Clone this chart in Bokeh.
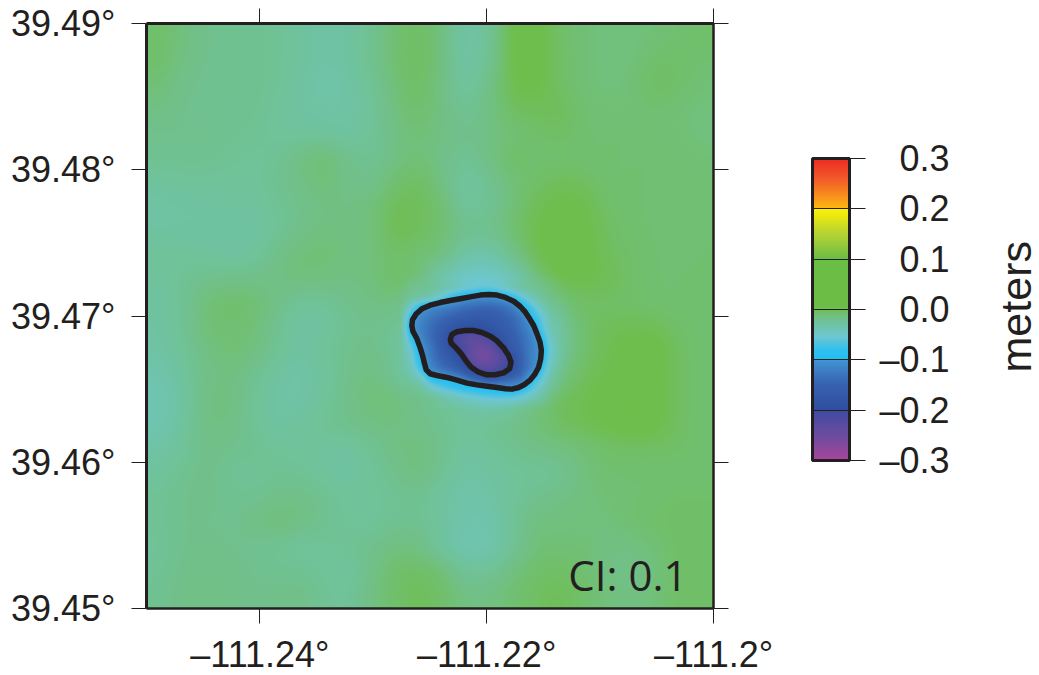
import numpy as np
from bokeh.plotting import figure
from bokeh.models import (LinearAxis, FixedTicker, LinearColorMapper, ColorBar, Label, Range1d)
from bokeh.embed import file_html
from bokeh.resources import INLINE

INK = "#231f20"
LON_TICKS = [-111.24, -111.22, -111.2]
LON_LABELS = ["\u2013111.24\u00b0", "\u2013111.22\u00b0", "\u2013111.2\u00b0"]
LAT_TICKS = [39.45, 39.46, 39.47, 39.48, 39.49]
LAT_LABELS = ["39.45\u00b0", "39.46\u00b0", "39.47\u00b0", "39.48\u00b0", "39.49\u00b0"]
CB_TICKS = [-0.3, -0.2, -0.1, 0.0, 0.1, 0.2, 0.3]
CB_LABELS = ["\u20130.3", "\u20130.2", "\u20130.1", "\u00a0\u00a00.0", "\u00a0\u00a00.1", "\u00a0\u00a00.2", "\u00a0\u00a00.3"]

CMAP_SEGMENTS = [
    (-0.30, -0.25, "#a8459b", "#6b4c9f"),
    (-0.25, -0.20, "#6b4c9f", "#3f4ba0"),
    (-0.20, -0.15, "#2f4ea0", "#3761ae"),
    (-0.15, -0.10, "#3761ae", "#4195d3"),
    (-0.10, -0.08, "#22bff2", "#30c0ee"),
    (-0.08, -0.055, "#30c0ee", "#6dc7d3"),
    (-0.055, -0.03, "#6dc7d3", "#6fc3a5"),
    (-0.03, -0.015, "#6fc3a5", "#71c087"),
    (-0.015, -0.005, "#71c087", "#70bf66"),
    (-0.005, 0.00, "#70bf66", "#6ebe50"),
    (0.00, 0.01, "#6ebe50", "#6cbd45"),
    (0.01, 0.10, "#6cbd45", "#6abd45"),
    (0.10, 0.15, "#6abd45", "#b5d334"),
    (0.15, 0.20, "#b5d334", "#fff200"),
    (0.20, 0.26, "#fdb913", "#f15a29"),
    (0.26, 0.30, "#f15a29", "#ee2a24"),
]

# displacement in millimetres (rows run north to south)
FIELD_MM = [
    [-6,-12,-18,-20,-20,-22,-26,-30,-28,-20,-8,-4,-12,-32,-22,3,3,-6,-10,-12,-12,-10,-8,-6],
    [-6,-14,-18,-20,-20,-22,-26,-30,-28,-20,-8,-3,-12,-32,-20,3,3,-5,-10,-12,-12,-6,-6,-8],
    [-10,-16,-20,-20,-20,-22,-28,-32,-30,-22,-10,-4,-14,-28,-16,1,2,-5,-10,-12,-10,-4,-6,-10],
    [-14,-18,-20,-20,-20,-24,-28,-30,-30,-24,-12,-6,-14,-22,-14,-3,-2,-2,-8,-10,-10,-8,-10,-12],
    [-18,-18,-18,-20,-22,-24,-26,-26,-28,-24,-14,-10,-14,-18,-14,-10,-6,-4,-8,-8,-8,-8,-10,-12],
    [-20,-20,-20,-22,-24,-22,-14,-8,-18,-22,-14,-10,-16,-22,-14,-5,-8,-8,-8,-8,-8,-8,-8,-10],
    [-26,-24,-24,-24,-24,-20,-14,-10,-16,-18,-8,-3,-14,-28,-20,-10,-6,-2,-4,-8,-8,-8,-8,-8],
    [-30,-28,-28,-26,-26,-22,-18,-14,-14,-12,-2,-2,-8,-26,-22,-10,-1,2,1,-6,-8,-8,-8,-8],
    [-28,-28,-28,-28,-28,-24,-16,-12,-14,-12,0,-3,-8,-18,-18,-8,1,4,2,-4,-8,-8,-9,-8],
    [-24,-24,-26,-28,-26,-16,-10,-10,-12,-12,-6,-8,-12,-30,-34,-16,0,4,3,-3,-6,-8,-9,-8],
    [-26,-22,-18,-16,-16,-14,-12,-12,-14,-12,-4,-10,-36,-50,-52,-40,-10,1,1,-1,-6,-8,-8,-7],
    [-28,-22,-10,-6,-8,-16,-24,-24,-18,-14,-14,-25,-60,-80,-80,-70,-50,-12,-5,-5,-6,-8,-8,-7],
    [-28,-22,-10,-8,-10,-20,-30,-26,-20,-18,-22,-35,-90,-120,-120,-110,-80,-24,-6,-2,-1,-1,-6,-8],
    [-30,-24,-14,-10,-12,-22,-28,-24,-18,-16,-22,-40,-100,-150,-170,-150,-90,-24,-6,-1,3,4,-4,-8],
    [-34,-26,-16,-12,-20,-28,-32,-26,-18,-12,-22,-36,-70,-130,-150,-130,-60,-14,-3,1,3,2,-4,-8],
    [-38,-28,-14,-12,-22,-30,-30,-24,-16,-10,-10,-18,-22,-30,-40,-30,-14,-2,0,3,5,3,-4,-8],
    [-36,-26,-14,-14,-22,-28,-26,-22,-18,-14,-14,-16,-20,-24,-20,-16,-10,-4,-1,1,4,2,-4,-8],
    [-30,-24,-16,-18,-20,-24,-24,-26,-28,-22,-14,-12,-18,-28,-24,-20,-16,-14,-10,-6,-5,-5,-6,-8],
    [-26,-20,-16,-22,-24,-20,-22,-26,-28,-24,-18,-12,-22,-30,-28,-24,-24,-22,-12,-8,-8,-8,-8,-8],
    [-22,-18,-16,-20,-20,-16,-14,-20,-24,-24,-22,-20,-28,-32,-30,-24,-18,-14,-12,-10,-8,-8,-6,-6],
    [-22,-18,-18,-20,-14,-10,-14,-20,-24,-24,-20,-20,-26,-34,-34,-22,-12,-12,-12,-12,-8,-6,-5,-5],
    [-24,-18,-16,-18,-20,-22,-26,-24,-22,-18,-12,-14,-28,-36,-36,-22,-10,-10,-10,-14,-14,-10,-5,-5],
    [-22,-16,-16,-16,-18,-20,-20,-24,-26,-16,-6,-4,-8,-24,-22,-12,-6,-4,-8,-14,-16,-12,-5,-5],
    [-20,-16,-14,-16,-18,-16,-16,-22,-24,-14,-6,-2,-6,-14,-14,-8,-4,-2,-6,-12,-14,-10,-5,-5],
]
N = float("nan")
# finer patch over the subsidence bowl (north to south); NaN means "use the coarse field"
BOWL_MM = [
    [N,N,N,N,N,N,N,N,N,N,N,N,N,N,N,N,N],
    [N,-18,-20,-24,-30,-36,-46,-54,-58,-58,-50,-38,-28,-22,-16,-12,N],
    [N,-24,-30,-38,-55,-78,-95,-103,-110,-108,-100,-88,-62,-42,-26,-14,N],
    [N,-55,-95,-112,-118,-125,-135,-140,-145,-145,-140,-125,-100,-70,-42,-24,N],
    [N,-85,-115,-130,-140,-150,-160,-165,-168,-165,-155,-145,-125,-92,-60,-32,N],
    [N,-98,-120,-140,-155,-175,-190,-195,-192,-180,-165,-150,-130,-108,-68,-36,N],
    [N,-78,-115,-140,-165,-200,-225,-235,-230,-205,-180,-160,-140,-118,-85,-42,N],
    [N,-58,-103,-130,-160,-190,-210,-240,-252,-240,-202,-170,-145,-120,-98,-50,N],
    [N,-48,-96,-125,-150,-170,-198,-240,-260,-252,-225,-198,-150,-120,-96,-48,N],
    [N,-42,-80,-115,-135,-150,-175,-212,-235,-235,-215,-195,-150,-120,-82,-40,N],
    [N,-32,-48,-88,-98,-105,-120,-145,-165,-180,-165,-150,-135,-90,-64,-30,N],
    [N,-20,-28,-48,-62,-74,-84,-90,-96,-100,-100,-104,-94,-70,-44,-22,N],
    [N,-16,-18,-20,-30,-36,-44,-50,-56,-60,-62,-62,-54,-40,-28,-12,N],
    [N,N,N,N,N,N,N,N,N,N,N,N,N,N,N,N,N],
]
BOWL_LON0, BOWL_LON1 = -111.22798, -111.21298
BOWL_LAT0, BOWL_LAT1 = 39.46340, 39.47297

CONTOUR_M01_LON = [-111.22660,-111.22654,-111.22621,-111.22571,-111.22498,-111.22410,-111.22321,-111.22233,-111.22145,-111.22057,-111.21983,-111.21910,-111.21836,-111.21762,-111.21704,-111.21659,-111.21621,-111.21586,-111.21556,-111.21530,-111.21518,-111.21524,-111.21542,-111.21577,-111.21615,-111.21665,-111.21718,-111.21777,-111.21836,-111.21910,-111.21998,-111.22086,-111.22174,-111.22262,-111.22351,-111.22439,-111.22498,-111.22533,-111.22548,-111.22563,-111.22586,-111.22615,-111.22651,-111.22660]
CONTOUR_M01_LAT = [39.46935,39.46974,39.47015,39.47049,39.47074,39.47092,39.47106,39.47118,39.47131,39.47143,39.47147,39.47143,39.47127,39.47101,39.47065,39.47026,39.46981,39.46935,39.46878,39.46821,39.46764,39.46707,39.46650,39.46600,39.46564,39.46532,39.46511,39.46500,39.46502,39.46511,39.46520,39.46529,39.46541,39.46561,39.46580,39.46593,39.46605,39.46632,39.46673,39.46723,39.46782,39.46844,39.46896,39.46935]
CONTOUR_M02_LON = [-111.22321,-111.22307,-111.22262,-111.22189,-111.22115,-111.22042,-111.21968,-111.21910,-111.21851,-111.21807,-111.21786,-111.21798,-111.21851,-111.21924,-111.21998,-111.22071,-111.22136,-111.22180,-111.22224,-111.22271,-111.22313,-111.22321]
CONTOUR_M02_LAT = [39.46839,39.46874,39.46892,39.46901,39.46901,39.46887,39.46862,39.46830,39.46782,39.46730,39.46684,39.46639,39.46611,39.46598,39.46598,39.46616,39.46650,39.46691,39.46741,39.46782,39.46814,39.46839]


def hex_rgb(h):
    return np.array([int(h[i:i + 2], 16) for i in (1, 3, 5)], dtype=float)


def build_palette(steps=600):
    out = []
    for k in range(steps):
        v = -0.3 + (k + 0.5) * 0.6 / steps
        for lo, hi, c0, c1 in CMAP_SEGMENTS:
            if v <= hi or hi == CMAP_SEGMENTS[-1][1]:
                t = min(max((v - lo) / (hi - lo), 0), 1)
                rgb = hex_rgb(c0) * (1 - t) + hex_rgb(c1) * t
                out.append("#%02x%02x%02x" % tuple(int(round(c)) for c in rgb))
                break
    return out


def resample(grid, xs, ys, xq, yq):
    """Raster display of a gridded field: separable linear resampling."""
    a = np.array([np.interp(xq, xs, row) for row in grid])
    return np.array([np.interp(yq, ys, col) for col in a.T]).T


def blur(a, nx, ny):
    """Separable box filter so the raster shows no grid facets."""
    kx, ky = np.ones(nx) / nx, np.ones(ny) / ny
    a = np.pad(a, ((ny // 2, ny - 1 - ny // 2), (nx // 2, nx - 1 - nx // 2)), mode="edge")
    a = np.array([np.convolve(r, kx, mode="valid") for r in a])
    return np.array([np.convolve(c, ky, mode="valid") for c in a.T]).T


mapper = LinearColorMapper(palette=build_palette(), low=-0.3, high=0.3, nan_color="rgba(0,0,0,0)")

p = figure(output_backend="svg", toolbar_location=None, frame_width=567, frame_height=585,
           x_range=Range1d(-111.25, -111.2), y_range=Range1d(39.45, 39.49),
           x_axis_type=None, y_axis_type=None,
           min_border_left=146, min_border_right=326, min_border_top=23, min_border_bottom=67)
p.outline_line_color = None
p.grid.visible = False

# display raster, south row first
field = np.array(FIELD_MM, dtype=float)[::-1] / 1000
ny, nx = field.shape
fx = -111.25 + (np.arange(nx) + 0.5) * 0.05 / nx
fy = 39.45 + (np.arange(ny) + 0.5) * 0.04 / ny
qx = -111.25 + (np.arange(567) + 0.5) * 0.05 / 567
qy = 39.45 + (np.arange(585) + 0.5) * 0.04 / 585
raster = blur(resample(field, fx, fy, qx, qy), 24, 24)

bowl = np.array(BOWL_MM, dtype=float)[::-1] / 1000
by, bx = bowl.shape
bxs = BOWL_LON0 + (np.arange(bx) + 0.5) * (BOWL_LON1 - BOWL_LON0) / bx
bys = BOWL_LAT0 + (np.arange(by) + 0.5) * (BOWL_LAT1 - BOWL_LAT0) / by
coarse = resample(raster, qx, qy, bxs, bys)
bowl = np.where(np.isnan(bowl), coarse, bowl)
in_x = (qx >= bxs[0]) & (qx <= bxs[-1])
in_y = (qy >= bys[0]) & (qy <= bys[-1])
patch = blur(resample(bowl, bxs, bys, qx[in_x], qy[in_y]), 7, 7)
raster[np.ix_(in_y, in_x)] = patch

p.image(image=[raster], x=-111.25, y=39.45, dw=0.05, dh=0.04, color_mapper=mapper)
p.multi_line(xs=[CONTOUR_M01_LON, CONTOUR_M02_LON], ys=[CONTOUR_M01_LAT, CONTOUR_M02_LAT],
             line_color=INK, line_width=5.5, line_join="round", line_cap="round")


def style(ax, ticks, labels, width, show):
    ax.ticker = FixedTicker(ticks=ticks)
    ax.axis_line_color = INK
    ax.axis_line_width = width
    ax.major_tick_line_color = INK
    ax.major_tick_line_width = 1
    ax.major_tick_in = 0
    ax.major_tick_out = 15
    ax.minor_tick_line_color = None
    if show:
        ax.major_label_overrides = dict(zip(ticks, labels))
        ax.major_label_text_color = INK
        ax.major_label_text_font = "Liberation Sans"
        ax.major_label_text_font_size = "36px"
        ax.major_label_standoff = 16
    else:
        ax.major_label_text_color = None
        ax.major_label_overrides = dict(zip(ticks, [" "] * len(ticks)))
        ax.major_label_text_font_size = "1px"
        ax.major_label_standoff = 0


bottom, left, top, right = LinearAxis(), LinearAxis(), LinearAxis(), LinearAxis()
style(bottom, LON_TICKS, LON_LABELS, 2.5, True)
style(top, LON_TICKS, LON_LABELS, 3, False)
style(left, LAT_TICKS, LAT_LABELS, 3, True)
style(right, LAT_TICKS, LAT_LABELS, 2.5, False)
bottom.major_label_standoff = 10
p.add_layout(bottom, "below")
p.add_layout(top, "above")
p.add_layout(left, "left")
p.add_layout(right, "right")

# colour-bar title: an outer axis with a single unmarked tick carries the rotated text
TITLE_LAT = 39.46614
title_axis = LinearAxis(ticker=FixedTicker(ticks=[TITLE_LAT]), axis_line_color=None,
                        major_tick_line_color=None, minor_tick_line_color=None,
                        major_tick_in=0, major_tick_out=0,
                        major_label_overrides={TITLE_LAT: "meters"},
                        major_label_orientation=np.pi / 2,
                        major_label_standoff=288, major_label_text_color=INK,
                        major_label_text_font="Liberation Sans",
                        major_label_text_font_size="43px")
p.add_layout(title_axis, "right")

cb = ColorBar(color_mapper=mapper, ticker=FixedTicker(ticks=CB_TICKS),
              major_label_overrides=dict(zip(CB_TICKS, CB_LABELS)),
              location=(666, 148), width=37, height=302, padding=0, margin=0,
              bar_line_color=INK, bar_line_width=3,
              major_tick_line_color=INK, major_tick_line_width=1,
              major_tick_in=37, major_tick_out=16, minor_tick_line_color=None,
              label_standoff=14, major_label_text_font="Liberation Sans",
              major_label_text_font_size="36px", major_label_text_color=INK,
              background_fill_color=None, border_line_color=None)
p.add_layout(cb, "center")

p.add_layout(Label(x=-111.2128, y=39.45232, text="CI: 0.1", text_align="left",
                   text_baseline="alphabetic", text_color=INK,
                   text_font="Open Sans", text_font_size="42px"))

open("out.html", "w").write(file_html(p, INLINE))
